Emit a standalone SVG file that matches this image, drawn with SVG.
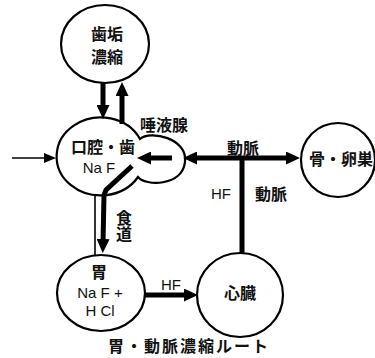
<svg xmlns="http://www.w3.org/2000/svg" width="375" height="358" viewBox="0 0 375 358">
<style>
.node{fill:#fff;stroke:#000;stroke-width:2.2}
.jp{font-family:"Noto Sans CJK JP","Noto Sans",sans-serif;font-weight:700;font-size:16px;fill:#111;text-anchor:middle}
.en{font-family:"Liberation Sans",Arial,sans-serif;font-size:15px;fill:#111;text-anchor:middle}
.thick{stroke:#000;stroke-width:5;fill:none}
.thin{stroke:#000;stroke-width:1.6;fill:none}
</style>
<defs>
<marker id="ah" markerUnits="userSpaceOnUse" markerWidth="14" markerHeight="13" refX="4" refY="6.5" orient="auto-start-reverse">
<path d="M0,0 L14,6.5 L0,13 Z" fill="#000"/>
</marker>
<marker id="ahs" markerUnits="userSpaceOnUse" markerWidth="12" markerHeight="10" refX="2" refY="5" orient="auto">
<path d="M0,0 L12,5 L0,10 Z" fill="#000"/>
</marker>
</defs>
<rect width="375" height="358" fill="#fff"/>

<g id="plaque">
<ellipse class="node" cx="105" cy="44" rx="44" ry="39"/>
<text class="jp" x="107" y="40">歯垢</text>
<text class="jp" x="107" y="63">濃縮</text>
</g>

<g id="mouth">
<path class="node" d="M140,139 A44,39 0 1 0 138,177 C145,186 182,187 185,162 C188,138 150,130 140,139 Z"/>
<text class="jp" x="103" y="153">口腔・歯</text>
<text class="en" x="99" y="173">Na F</text>
<text class="jp" x="164" y="131">唾液腺</text>
</g>

<g id="bone">
<ellipse class="node" cx="338" cy="160" rx="37" ry="37"/>
<text class="jp" x="341" y="165">骨・卵巣</text>
</g>

<g id="stomach">
<ellipse class="node" cx="101" cy="293" rx="44" ry="38"/>
<text class="jp" x="99" y="278">胃</text>
<text class="en" x="100" y="298">Na F +</text>
<text class="en" x="100" y="316">H Cl</text>
</g>

<g id="heart">
<ellipse class="node" cx="240" cy="295" rx="43" ry="42"/>
<text class="jp" x="240" y="299">心臓</text>
</g>

<g id="connectors">
<line class="thin" x1="12" y1="158" x2="46" y2="158" marker-end="url(#ahs)"/>
<line class="thick" x1="103" y1="83" x2="103" y2="109" marker-end="url(#ah)"/>
<line class="thick" x1="122" y1="124" x2="122" y2="92" marker-end="url(#ah)"/>
<line class="thick" x1="193" y1="158" x2="290" y2="158" marker-start="url(#ah)" marker-end="url(#ah)"/>
<line class="thick" x1="172" y1="158" x2="147" y2="158" marker-end="url(#ah)"/>
<line class="thick" x1="242" y1="158" x2="242" y2="254"/>
<polyline class="thick" points="132,166 106,190 104,195 103,243" marker-end="url(#ah)"/>
<line class="thin" x1="95" y1="195" x2="95" y2="256"/>
<line class="thick" x1="145" y1="295" x2="188" y2="295" marker-end="url(#ah)"/>
</g>

<g id="labels">
<text class="jp" x="243" y="154">動脈</text>
<text class="en" x="221" y="199">HF</text>
<text class="jp" x="271" y="200">動脈</text>
<text class="en" x="171" y="290">HF</text>
<text class="jp" x="124" y="226" style="writing-mode:vertical-rl">食道</text>
<text class="jp" x="188" y="352" textLength="160" lengthAdjust="spacing">胃・動脈濃縮ルート</text>
</g>
</svg>
